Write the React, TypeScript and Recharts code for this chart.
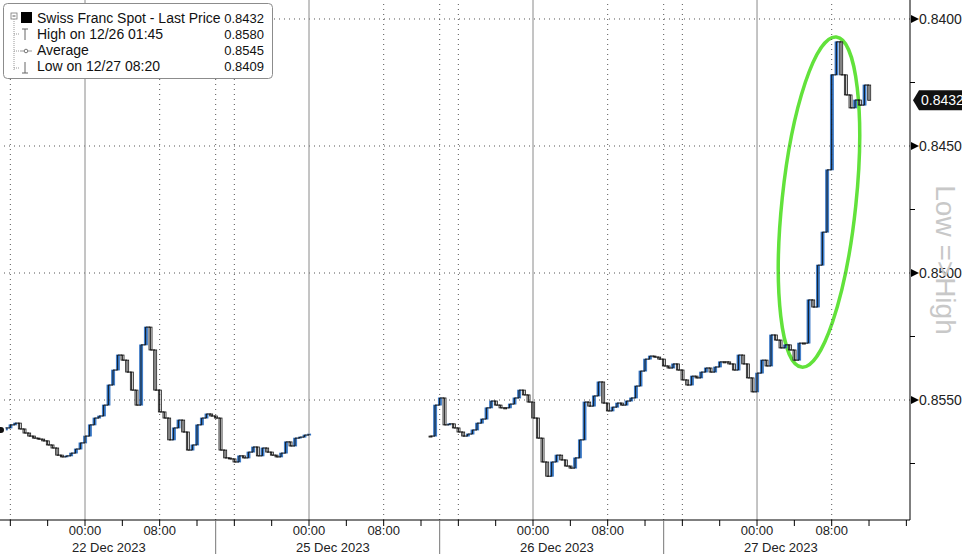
import React from "react";
import { ComposedChart, Bar, Line, XAxis, YAxis, ReferenceLine, ReferenceArea } from "recharts";

// half-hourly prices (hours counted on the compressed session axis, 0 = 22 Dec 00:00)
const step = 0.5;
const segAStart = -9;
const segA = [
  0.85618, 0.8561, 0.85598, 0.85591, 0.85614, 0.8563, 0.85642, 0.8565, 0.85654, 0.85661,
  0.85677, 0.85689, 0.85717, 0.85724, 0.8572, 0.85709, 0.85693, 0.85669, 0.85642, 0.85598,
  0.85571, 0.85563, 0.8552, 0.85441, 0.85382, 0.85323, 0.85343, 0.8539, 0.85461, 0.8552,
  0.85283, 0.85213, 0.85303, 0.85461, 0.85547, 0.85571, 0.85657, 0.8561, 0.85579, 0.85626,
  0.85697, 0.85677, 0.85598, 0.85571, 0.85555, 0.85563, 0.85571, 0.85697, 0.85728, 0.85732,
  0.85744, 0.8572, 0.85728, 0.85705, 0.85685, 0.8572, 0.85689, 0.85705, 0.85717, 0.85724,
  0.85709, 0.85665, 0.85681, 0.8565, 0.85646, 0.85638, 0.85634,
];
const gapAt = 30;
const segBStart = 37;
const segB = [
  0.85642, 0.8552, 0.85492, 0.85598, 0.85594, 0.8561, 0.85626, 0.85642, 0.85634, 0.85618,
  0.85591, 0.85575, 0.85531, 0.85504, 0.8552, 0.85531, 0.85531, 0.85516, 0.85492, 0.85461,
  0.8548, 0.85508, 0.85571, 0.8565, 0.85744, 0.858, 0.85744, 0.85717, 0.85736, 0.8576,
  0.85768, 0.85728, 0.85657, 0.85508, 0.85524, 0.85484, 0.85429, 0.85512, 0.85543, 0.85528,
  0.85512, 0.8552, 0.85504, 0.85492, 0.85445, 0.85386, 0.85339, 0.85327, 0.85331, 0.85339,
  0.85366, 0.85374, 0.85358, 0.85382, 0.85421, 0.85441, 0.85406, 0.85413, 0.8539, 0.85374,
  0.8539, 0.8537, 0.8535, 0.8535, 0.85358, 0.85382, 0.85323, 0.85358, 0.85413, 0.85468,
  0.85394, 0.85343, 0.85366, 0.85244, 0.85264, 0.85295, 0.85283, 0.85303, 0.85343, 0.85276,
  0.85276, 0.85106, 0.85134, 0.84969, 0.84839, 0.84594, 0.8422, 0.8409, 0.8422, 0.84299,
  0.8435, 0.84319, 0.84339, 0.8426, 0.8432,
];

const lastPrice = 0.8432;
const priceTicks = [0.84, 0.845, 0.85, 0.855];
const minorTicks = [0.8425, 0.8475, 0.8525, 0.8575];
const hourTicks = [-8, -4, 0, 4, 8, 12, 16, 20, 24, 28, 32, 36, 40, 44, 48, 52, 56, 60, 64, 68, 72, 76, 80, 84, 88];
const dottedHours = [-8, 8, 16, 32, 40, 56, 64, 80];
const midnights = [0, 24, 48, 72];
const sessionBreaks = [14, 38, 62];
const dateLabels = ["22 Dec 2023", "25 Dec 2023", "26 Dec 2023", "27 Dec 2023"];
const hourLabels: Record<number, string> = { 0: "00:00", 8: "08:00" };

const legendLabels = ["Swiss Franc Spot - Last Price", "High on 12/26 01:45", "Average", "Low on 12/27 08:20"];
const legendValues = ["0.8432", "0.8580", "0.8545", "0.8409"];

// highlight ellipse around the 27 Dec move
const ring = { x1: 74.68, x2: 82.6, y1: 0.84067, y2: 0.85374, tilt: 6 };

const FONT = "'Liberation Sans', Arial, sans-serif";

type Row = { t: number; close: number | null; body: [number, number] | null; up: boolean };
const rows: Row[] = [];
const addSeg = (start: number, vals: number[]) =>
  vals.forEach((v, i) => {
    const open = i > 0 ? vals[i - 1] : v;
    rows.push({ t: start + i * step, close: v, body: [open, v], up: v < open });
  });
addSeg(segAStart, segA);
rows.push({ t: gapAt, close: null, body: null, up: false });
addSeg(segBStart, segB);

const Candle = (p: any) => {
  const { x, y, width, height, payload } = p;
  if (!payload || !payload.body || x == null || y == null) return <g />;
  const top = height < 0 ? y + height : y;
  const h = Math.max(Math.abs(height || 0), 1);
  return (
    <rect
      x={x}
      y={top}
      width={width}
      height={h}
      fill={payload.up ? "#3d86dc" : "#ffffff"}
      stroke={payload.up ? "#2f6fbf" : "#111"}
      strokeWidth={0.8}
    />
  );
};

const XTick = (p: any) => {
  const { x, y, payload } = p;
  const v = payload.value;
  if (sessionBreaks.includes(v)) return <line x1={x} x2={x} y1={y} y2={y + 34} stroke="#777" />;
  const hod = ((v % 24) + 24) % 24;
  const di = midnights.indexOf(v);
  return (
    <g>
      <line x1={x} x2={x} y1={y} y2={y + 6} stroke="#000" />
      {hourLabels[hod] && (
        <text x={x} y={y + 15} textAnchor="middle" fontSize={13} fontFamily={FONT} fill="#222">
          {hourLabels[hod]}
        </text>
      )}
      {di >= 0 && (
        <text x={x - 13} y={y + 32} fontSize={13} fontFamily={FONT} fill="#222">
          {dateLabels[di]}
        </text>
      )}
    </g>
  );
};

const YTick = (p: any) => {
  const { x, y, payload } = p;
  const v = payload.value;
  if (v === lastPrice) {
    return (
      <g>
        <path d={`M${x + 3},${y} L${x + 9},${y - 10} L${x + 52},${y - 10} L${x + 52},${y + 10} L${x + 9},${y + 10} Z`} fill="#111" />
        <text x={x + 11} y={y + 5} fontSize={14} fontFamily={FONT} fill="#fff">
          {v.toFixed(4)}
        </text>
      </g>
    );
  }
  if (minorTicks.includes(v)) return <line x1={x} x2={x + 5} y1={y} y2={y} stroke="#000" />;
  return (
    <g>
      <path d={`M${x + 1},${y - 4} L${x + 9},${y} L${x + 1},${y + 4} Z`} fill="#000" />
      <text x={x + 9} y={y + 5} fontSize={14} fontFamily={FONT} fill="#222">
        {v.toFixed(4)}
      </text>
    </g>
  );
};

const RingShape = (p: any) => {
  const cx = p.x + p.width / 2;
  const cy = p.y + p.height / 2;
  return (
    <ellipse
      cx={cx}
      cy={cy}
      rx={Math.abs(p.width) / 2}
      ry={Math.abs(p.height) / 2}
      transform={`rotate(${ring.tilt} ${cx} ${cy})`}
      fill="none"
      stroke="#62e23b"
      strokeWidth={3.5}
    />
  );
};

const Legend = () => (
  <svg width={963} height={554} style={{ position: "absolute", left: 0, top: 0, pointerEvents: "none" }}>
    <rect x={3.5} y={3.5} width={269} height={75} rx={4} fill="#fff" stroke="#8c8c8c" />
    <rect x={11} y={13} width={6} height={6} fill="#fff" stroke="#777" strokeWidth={0.8} />
    <line x1={12.5} x2={15.5} y1={16} y2={16} stroke="#555" />
    <rect x={21} y={12} width={11} height={11} fill="#000" />
    <line x1={14} x2={14} y1={19} y2={70} stroke="#999" strokeDasharray="1 1" />
    {[34, 51, 68].map((yy) => (
      <line key={yy} x1={14} x2={19} y1={yy} y2={yy} stroke="#999" strokeDasharray="1 1" />
    ))}
    <line x1={25} x2={25} y1={29} y2={40} stroke="#666" />
    <line x1={22} x2={28} y1={29} y2={29} stroke="#666" />
    <line x1={20} x2={32} y1={51} y2={51} stroke="#999" />
    <circle cx={26} cy={51} r={1.8} fill="#fff" stroke="#777" />
    <line x1={25} x2={25} y1={62} y2={73} stroke="#666" />
    <line x1={22} x2={28} y1={73} y2={73} stroke="#666" />
    {legendLabels.map((l, i) => (
      <g key={l}>
        <text x={37} y={23 + i * 16} fontSize={14} fontFamily={FONT} fill="#111">
          {l}
        </text>
        <text x={264} y={23 + i * 16} fontSize={13} fontFamily={FONT} fill="#111" textAnchor="end">
          {legendValues[i]}
        </text>
      </g>
    ))}
    <text
      x={945}
      y={260}
      transform="rotate(90 945 260)"
      textAnchor="middle"
      dominantBaseline="central"
      fontSize={28}
      fontFamily={FONT}
      fill="#c8c8c8"
    >
      Low =&gt;High
    </text>
  </svg>
);

export default function App() {
  return (
    <div style={{ position: "absolute", left: 0, top: 0, width: 963, height: 554, background: "#fff" }}>
      <ComposedChart width={963} height={554} data={rows} margin={{ top: 0, right: 0, bottom: 0, left: 0 }}>
        <XAxis
          dataKey="t"
          type="number"
          domain={[-9.107, 88.39]}
          allowDataOverflow
          ticks={[...hourTicks, ...sessionBreaks]}
          interval={0}
          height={34}
          tickLine={false}
          tickSize={0}
          tickMargin={0}
          axisLine={{ stroke: "#000" }}
          tick={<XTick />}
        />
        <YAxis
          orientation="right"
          type="number"
          reversed
          domain={[0.839252, 0.859724]}
          allowDataOverflow
          ticks={[...priceTicks, ...minorTicks, lastPrice]}
          interval={0}
          width={53}
          tickLine={false}
          tickSize={0}
          tickMargin={0}
          axisLine={{ stroke: "#000" }}
          tick={<YTick />}
        />
        {priceTicks.map((v) => (
          <ReferenceLine key={"h" + v} y={v} stroke="#555" strokeDasharray="1 4" />
        ))}
        {[...dottedHours, ...sessionBreaks].map((v) => (
          <ReferenceLine key={"d" + v} x={v} stroke="#555" strokeDasharray="1 4" />
        ))}
        {midnights.map((v) => (
          <ReferenceLine key={"m" + v} x={v} stroke="#8a8a8a" />
        ))}
        <Line
          dataKey="close"
          type="stepAfter"
          stroke="#111"
          strokeWidth={1}
          dot={false}
          connectNulls={false}
          isAnimationActive={false}
        />
        <Bar dataKey="body" barSize={3} shape={<Candle />} isAnimationActive={false} />
        <ReferenceArea x1={ring.x1} x2={ring.x2} y1={ring.y1} y2={ring.y2} shape={<RingShape />} ifOverflow="visible" />
      </ComposedChart>
      <Legend />
    </div>
  );
}
